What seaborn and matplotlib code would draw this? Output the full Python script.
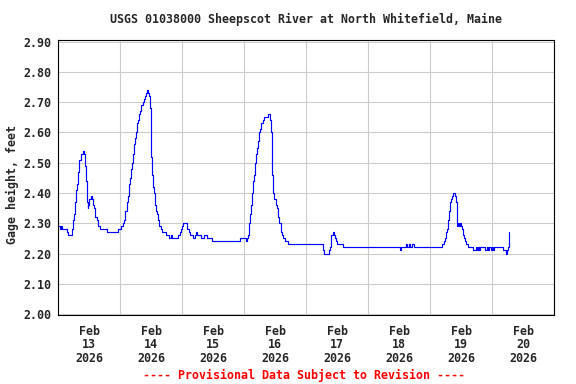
import matplotlib
matplotlib.use("Agg")
import matplotlib.pyplot as plt
import matplotlib.dates as mdates
import matplotlib.ticker as mticker
import numpy as np
import pandas as pd
import seaborn as sns

# ---- data: hours since 2026-02-13 00:00 and gage height (ft) ----
hours = [
    0.0, 0.7, 1.0, 1.4, 2.7, 3.35, 4.0, 4.9, 5.29, 5.68, 6.19, 6.58, 6.97, 7.48, 7.87,
    8.26, 8.77, 9.16, 9.68, 10.06, 10.45, 10.84, 11.1, 11.48, 11.74, 12.13, 12.64,
    13.03, 13.42, 13.94, 14.32, 14.97, 15.61, 16.26, 18.19, 18.84, 22.71, 23.35,
    24.26, 25.03, 25.55, 26.06, 26.58, 27.1, 27.48, 27.87, 28.26, 28.65, 29.03,
    29.42, 29.94, 30.32, 30.71, 31.1, 31.48, 31.87, 32.26, 32.77, 33.29, 33.81,
    34.19, 34.58, 34.97, 35.35, 35.61, 35.87, 36.26, 36.65, 37.16, 37.55, 37.94,
    38.32, 38.71, 39.23, 39.74, 40.26, 41.42, 41.81, 42.71, 43.1, 43.61, 44.0,
    45.94, 46.32, 47.23, 47.61, 48.0, 48.52, 49.55, 50.06, 50.58, 51.1, 51.74,
    52.39, 52.9, 53.42, 53.94, 54.71, 55.23, 56.0, 56.52, 57.29, 57.81, 58.84,
    59.48, 69.81, 70.45, 72.13, 72.65, 73.03, 73.54, 73.93, 74.31, 74.70, 75.08,
    75.47, 75.85, 76.24, 76.62, 77.01, 77.39, 77.78, 78.16, 78.55, 78.93, 79.32,
    79.83, 80.34, 81.11, 81.75, 82.14, 82.52, 82.78, 83.17, 83.68, 84.45, 84.83,
    85.22, 85.73, 86.25, 86.76, 87.27, 88.04, 88.94, 102.03, 102.42, 103.06,
    104.60, 104.98, 105.37, 105.75, 106.27, 106.65, 107.04, 107.55, 108.06,
    109.86, 110.25, 132.0, 132.26, 132.77, 134.58, 134.97, 135.74, 136.13,
    137.03, 137.68, 148.39, 148.77, 149.29, 149.81, 150.19, 150.58, 150.97,
    151.35, 151.74, 152.13, 152.52, 153.03, 153.68, 154.06, 154.45, 154.84,
    155.23, 155.61, 156.00, 156.39, 156.77, 157.16, 157.55, 158.06, 158.58,
    160.77, 161.29, 161.68, 162.19, 162.58, 162.97, 163.48, 165.42, 165.94,
    166.32, 166.84, 167.48, 167.87, 168.39, 168.90, 172.00, 172.39, 173.29,
    173.68, 174.06, 174.45, 174.58,
]
gage_ft = [
    2.29, 2.28, 2.29, 2.28, 2.28, 2.27, 2.26, 2.26, 2.28, 2.31, 2.33, 2.37, 2.41, 2.43, 2.47,
    2.51, 2.53, 2.53, 2.54, 2.53, 2.49, 2.44, 2.37, 2.35, 2.36, 2.38, 2.39,
    2.38, 2.36, 2.35, 2.32, 2.31, 2.29, 2.28, 2.28, 2.27, 2.27, 2.28,
    2.29, 2.30, 2.31, 2.34, 2.37, 2.39, 2.43, 2.45, 2.48, 2.50, 2.53,
    2.56, 2.58, 2.60, 2.63, 2.64, 2.66, 2.67, 2.69, 2.70, 2.71, 2.72,
    2.73, 2.74, 2.73, 2.72, 2.68, 2.52, 2.46, 2.42, 2.40, 2.36, 2.34,
    2.33, 2.31, 2.29, 2.28, 2.27, 2.27, 2.26, 2.26, 2.25, 2.26, 2.25,
    2.25, 2.26, 2.27, 2.28, 2.29, 2.30, 2.30, 2.28, 2.27, 2.26, 2.26,
    2.25, 2.26, 2.27, 2.26, 2.26, 2.25, 2.25, 2.26, 2.26, 2.25, 2.25,
    2.24, 2.24, 2.25, 2.25, 2.24, 2.25, 2.26, 2.30, 2.33, 2.36, 2.40,
    2.44, 2.46, 2.50, 2.53, 2.55, 2.57, 2.60, 2.61, 2.63, 2.63, 2.64,
    2.65, 2.65, 2.66, 2.66, 2.64, 2.60, 2.46, 2.40, 2.38, 2.36, 2.35,
    2.32, 2.30, 2.27, 2.26, 2.25, 2.24, 2.23, 2.23, 2.21, 2.20,
    2.20, 2.21, 2.22, 2.26, 2.27, 2.26, 2.25, 2.24, 2.23,
    2.23, 2.22, 2.22, 2.21, 2.22, 2.23, 2.22, 2.23, 2.22,
    2.23, 2.22, 2.22, 2.23, 2.24, 2.25, 2.27, 2.28, 2.31,
    2.34, 2.37, 2.38, 2.39, 2.40, 2.39, 2.37, 2.29, 2.30,
    2.29, 2.30, 2.29, 2.28, 2.26, 2.25, 2.24, 2.23, 2.22,
    2.21, 2.21, 2.22, 2.21, 2.22, 2.21, 2.22, 2.21, 2.22,
    2.21, 2.22, 2.21, 2.22, 2.21, 2.22, 2.22, 2.21, 2.20,
    2.21, 2.22, 2.25, 2.27,
]
y_ticks = [2.00, 2.10, 2.20, 2.30, 2.40, 2.50, 2.60, 2.70, 2.80, 2.90]
start = pd.Timestamp("2026-02-13 00:00")
end = pd.Timestamp("2026-02-21 00:00")
title = "USGS 01038000 Sheepscot River at North Whitefield, Maine"
ylabel = "Gage height, feet"
footer = "---- Provisional Data Subject to Revision ----"

df = pd.DataFrame({
    "time": start + pd.to_timedelta(hours, unit="h"),
    "height": gage_ft,
})

sns.set_style("white")
plt.rcParams["font.family"] = ["DejaVu Sans Mono"]
FS = 8.4

fig = plt.figure(figsize=(5.76, 3.84), dpi=100)
W, H = 576, 384
L, R, T, B = 58, 554, 40, 315
ax = fig.add_axes([L / W, 1 - B / H, (R - L) / W, (B - T) / H])

sns.lineplot(data=df, x="time", y="height", ax=ax, color="#0000ff",
             linewidth=0.85, drawstyle="steps-post", estimator=None)

ax.set_xlim(start, end)
ax.set_ylim(1.997, 2.905)
ax.set_yticks(y_ticks)
ax.yaxis.set_major_formatter(mticker.FormatStrFormatter("%.2f"))

ax.xaxis.set_major_locator(mdates.HourLocator(byhour=[12]))
ax.xaxis.set_major_formatter(mdates.DateFormatter("%b\n%d\n%Y"))
ax.xaxis.set_minor_locator(mdates.HourLocator(byhour=[0]))

ax.grid(False)
ax.grid(which="minor", axis="x", color="#cccccc", linewidth=0.8)
ax.grid(which="major", axis="y", color="#cccccc", linewidth=0.8)
ax.set_axisbelow(True)

ax.tick_params(axis="both", which="both", length=0)
ax.tick_params(axis="y", pad=5, labelsize=FS)
ax.tick_params(axis="x", pad=7, labelsize=FS)
for lab in ax.get_xticklabels() + ax.get_yticklabels():
    lab.set_fontweight("bold")
for lab in ax.get_xticklabels():
    lab.set_linespacing(1.05)

for s in ax.spines.values():
    s.set_color("black")
    s.set_linewidth(0.8)
    s.set_visible(True)

ax.set_xlabel("")
ax.set_ylabel(ylabel, fontsize=FS, fontweight="bold")
ax.yaxis.label.set_va("center")
ax.yaxis.label.set_rotation_mode("anchor")
ax.yaxis.set_label_coords((12 - L) / (R - L), (B - 185) / (B - T))

fig.text(306 / W, 1 - 19 / H, title, ha="center", va="center",
         fontsize=FS, fontweight="bold")
fig.text(304 / W, 1 - 375 / H, footer, ha="center", va="center",
         fontsize=FS, fontweight="bold", color="#ff0000")

fig.savefig("out.png", dpi=100)
